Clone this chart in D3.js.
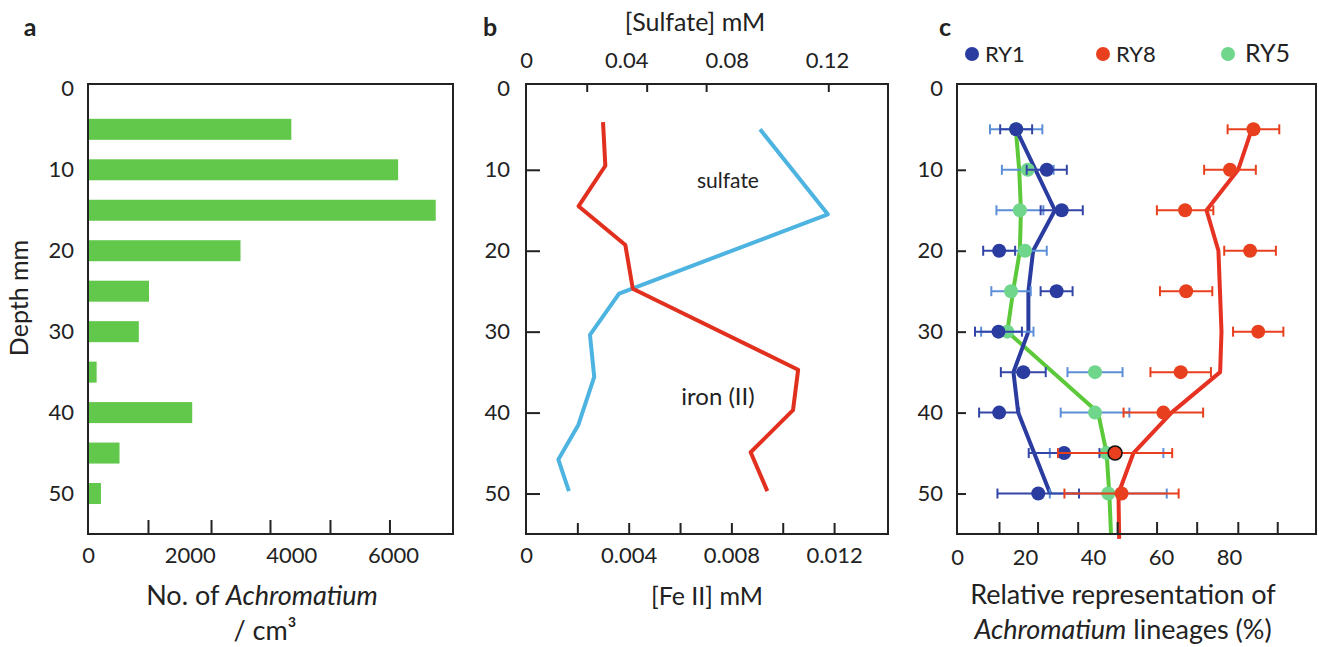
<!DOCTYPE html>
<html>
<head>
<meta charset="utf-8">
<script src="https://cdn.jsdelivr.net/npm/d3@7"></script>
<style>
  body { margin: 0; background: #fff; }
  text { font-family: Lato, "Open Sans", sans-serif; fill: #222; }
  .axis path { display: none; }
  .axis line { stroke: #222; stroke-width: 2; }
  .axis text { font-size: 22px; font-family: Lato, "Open Sans", sans-serif; fill: #222; }
</style>
</head>
<body>
<svg id="chart" width="1319" height="647"></svg>
<script>
// ---- data ----

// panel a: number of Achromatium per cm3 by depth (mm)
var depthsA = [5, 10, 15, 20, 25, 30, 35, 40, 45, 50];
var countsA = [4000, 6100, 6840, 3000, 1200, 1000, 170, 2050, 620, 255];
var ticksA = [0, 2000, 4000, 6000];
var tickMarksA = [1180, 2420, 3580, 4760, 5930];

// panel b: sulfate and iron (II) profiles
var sulfateDepths = [5, 15.5, 25.3, 30.4, 35.6, 41.5, 45.8, 49.7];
var sulfateValues = [0.0933, 0.1203, 0.0371, 0.0255, 0.0272, 0.0209, 0.0129, 0.0171];
var ironDepths = [4.1, 9.5, 14.5, 19.3, 24.7, 34.7, 39.7, 44.9, 49.7];
var ironValues = [0.0030, 0.00309, 0.00205, 0.00387, 0.00416, 0.0106, 0.0104, 0.00875, 0.0094];
var sulfateTicks = [0, 0.04, 0.08, 0.12];
var sulfateTickMarks = [0.0242, 0.0481, 0.0718, 0.1205];
var ironTicks = [0, 0.004, 0.008, 0.012];
var ironTickMarks = [0.002, 0.004, 0.006, 0.008, 0.010, 0.012];

// panel c: relative representation of lineages (%)
var depthsC = [5, 10, 15, 20, 25, 30, 35, 40, 45, 50];
var ry1 = [17.4, 26.4, 30.8, 12.4, 29.3, 12.2, 19.5, 12.4, 31.5, 23.9];
var ry1Err = [4.7, 5.9, 6.2, 4.7, 4.7, 6.9, 6.6, 5.9, 10.4, 12];
var ry5 = [17.4, 20.8, 18.5, 20, 15.9, 14.8, 40.6, 40.6, 44, 44.5];
var ry5Err = [7.7, 7.6, 6.9, 6.4, 5.8, 7.7, 8.1, 10.1, 16.7, 17.2];
var ry8 = [87.2, 80.3, 67.1, 86.2, 67.4, 88.6, 65.8, 60.7, 46.5, 48.4];
var ry8Err = [7.6, 7.6, 8.3, 7.6, 7.7, 7.4, 8.9, 11.7, 16.8, 16.8];

// trend lines in panel c
var ry1LineDepths = [5, 15, 20, 25, 30, 35, 40, 50];
var ry1Line = [17.4, 28.8, 22.4, 21, 21, 16.6, 18, 27.4];
var ry5LineDepths = [5, 10, 15, 20, 25, 30, 40, 45, 50, 55];
var ry5Line = [17.3, 18.3, 18.8, 18.5, 16.5, 14.8, 41.5, 44, 44.8, 45.3];
var ry8LineDepths = [5, 10, 15, 20, 30, 35, 40, 45, 50, 55.6];
var ry8Line = [86.7, 82.7, 73.4, 76.9, 77.8, 77.4, 63.1, 51.9, 47.5, 47.7];
var ticksC = [0, 20, 40, 60, 80];
var tickMarksC = [12.35, 23.7, 35.5, 47.1, 58.7, 70.5, 82.6, 94.2];

var depthTicks = [0, 10, 20, 30, 40, 50];
var depthTickMarks = [10, 20, 30, 40, 50];

var svg = d3.select("#chart");

// shared depth scale (all three panels line up)
var yTop = 84, yBottom = 534;
var y = d3.scaleLinear().domain([-0.6, 55]).range([yTop, yBottom]);

// helper to draw the frame box of a panel
function frame(x0, x1) {
    svg.append("rect")
        .attr("x", x0)
        .attr("y", yTop)
        .attr("width", x1 - x0)
        .attr("height", yBottom - yTop)
        .attr("fill", "none")
        .attr("stroke", "#222")
        .attr("stroke-width", 2);
}

// depth labels on the left of a panel
function depthAxis(x0, pad, markLen) {
    svg.append("g")
        .attr("class", "axis")
        .attr("transform", "translate(" + x0 + ",0)")
        .call(d3.axisLeft(y).tickValues(depthTicks).tickSize(0).tickPadding(pad).tickFormat(d3.format("d")));
    if (markLen) {
        svg.append("g")
            .attr("class", "axis")
            .attr("transform", "translate(" + x0 + ",0)")
            .call(d3.axisLeft(y).tickValues(depthTickMarks).tickSize(-markLen).tickFormat(""));
    }
}

// panel letters
[["a", 30], ["b", 490], ["c", 945]].forEach(function (p) {
    svg.append("text")
        .attr("x", p[1])
        .attr("y", 36)
        .attr("text-anchor", "middle")
        .style("font-size", "25px")
        .style("font-weight", "bold")
        .text(p[0]);
});

// ================= panel a =================
var xA = d3.scaleLinear().domain([0, 7180]).range([88, 453]);

svg.selectAll(".barA")
    .data(depthsA)
    .enter()
    .append("rect")
    .attr("class", "barA")
    .attr("x", xA(0))
    .attr("y", function (d) { return y(d) - 10.5; })
    .attr("width", function (d, i) { return xA(countsA[i]) - xA(0); })
    .attr("height", 21)
    .attr("fill", "#62c84b");

frame(88, 453);
depthAxis(88, 14, 0);

svg.append("g")
    .attr("class", "axis")
    .attr("transform", "translate(0," + yBottom + ")")
    .call(d3.axisBottom(xA).tickValues(ticksA).tickSize(0).tickPadding(13).tickFormat(d3.format("d")));
svg.append("g")
    .attr("class", "axis")
    .attr("transform", "translate(0," + yBottom + ")")
    .call(d3.axisBottom(xA).tickValues(tickMarksA).tickSize(-14).tickFormat(""));

// y title
svg.append("text")
    .attr("transform", "translate(28,298) rotate(-90)")
    .attr("text-anchor", "middle")
    .style("font-size", "25px")
    .text("Depth mm");

// x title
var tA = svg.append("text")
    .attr("x", 262)
    .attr("y", 605)
    .attr("text-anchor", "middle")
    .style("font-size", "27px");
tA.append("tspan").text("No. of ");
tA.append("tspan").style("font-style", "italic").text("Achromatium");
svg.append("text")
    .attr("x", 265)
    .attr("y", 640)
    .attr("text-anchor", "middle")
    .style("font-size", "27px")
    .text("/ cm\u00b3");

// ================= panel b =================
var xSulfate = d3.scaleLinear().domain([0, 0.1443]).range([526, 888]);
var xIron = d3.scaleLinear().domain([0, 0.0141]).range([526, 888]);

var sulfateLine = d3.line()
    .x(function (d) { return xSulfate(d[1]); })
    .y(function (d) { return y(d[0]); });
var ironLine = d3.line()
    .x(function (d) { return xIron(d[1]); })
    .y(function (d) { return y(d[0]); });

svg.append("path")
    .datum(d3.zip(sulfateDepths, sulfateValues))
    .attr("d", sulfateLine)
    .attr("fill", "none")
    .attr("stroke", "#4db3e0")
    .attr("stroke-width", 4)
    .attr("stroke-linejoin", "round");

svg.append("path")
    .datum(d3.zip(ironDepths, ironValues))
    .attr("d", ironLine)
    .attr("fill", "none")
    .attr("stroke", "#e2301f")
    .attr("stroke-width", 4)
    .attr("stroke-linejoin", "round");

frame(526, 888);
depthAxis(526, 16, 14);

// bottom axis: iron
svg.append("g")
    .attr("class", "axis")
    .attr("transform", "translate(0," + yBottom + ")")
    .call(d3.axisBottom(xIron).tickValues(ironTicks).tickSize(0).tickPadding(13).tickFormat(function (d) { return d === 0 ? "0" : String(d); }));
svg.append("g")
    .attr("class", "axis")
    .attr("transform", "translate(0," + yBottom + ")")
    .call(d3.axisBottom(xIron).tickValues(ironTickMarks).tickSize(-11).tickFormat(""));

// top axis: sulfate
svg.append("g")
    .attr("class", "axis")
    .attr("transform", "translate(0," + yTop + ")")
    .call(d3.axisTop(xSulfate).tickValues(sulfateTicks).tickSize(0).tickPadding(16).tickFormat(function (d) { return d === 0 ? "0" : String(d); }));
svg.append("g")
    .attr("class", "axis")
    .attr("transform", "translate(0," + yTop + ")")
    .call(d3.axisTop(xSulfate).tickValues(sulfateTickMarks).tickSize(-8).tickFormat(""));

svg.append("text")
    .attr("x", 695)
    .attr("y", 31)
    .attr("text-anchor", "middle")
    .style("font-size", "25px")
    .text("[Sulfate] mM");

svg.append("text")
    .attr("x", 707)
    .attr("y", 605)
    .attr("text-anchor", "middle")
    .style("font-size", "25px")
    .text("[Fe II] mM");

svg.append("text")
    .attr("x", 728)
    .attr("y", 188)
    .attr("text-anchor", "middle")
    .style("font-size", "21px")
    .text("sulfate");

svg.append("text")
    .attr("x", 718)
    .attr("y", 405)
    .attr("text-anchor", "middle")
    .style("font-size", "24px")
    .text("iron (II)");

// ================= panel c =================
var xC = d3.scaleLinear().domain([0, 105.6]).range([957, 1316]);

var trend = d3.line()
    .x(function (d) { return xC(d[1]); })
    .y(function (d) { return y(d[0]); });

var series = [
    { vals: ry5, err: ry5Err, dot: "#6fd68c", bar: "#5d8fd8", line: "#5cc93a", lineD: ry5LineDepths, lineV: ry5Line },
    { vals: ry1, err: ry1Err, dot: "#2b3ca0", bar: "#3346a8", line: "#2b3ca0", lineD: ry1LineDepths, lineV: ry1Line },
    { vals: ry8, err: ry8Err, dot: "#e8401e", bar: "#e8401e", line: "#e63222", lineD: ry8LineDepths, lineV: ry8Line }
];

// trend lines
series.forEach(function (s) {
    svg.append("path")
        .datum(d3.zip(s.lineD, s.lineV))
        .attr("d", trend)
        .attr("fill", "none")
        .attr("stroke", s.line)
        .attr("stroke-width", 4)
        .attr("stroke-linejoin", "round");
});

// error bars and dots
series.forEach(function (s) {
    var g = svg.append("g");
    var pts = d3.zip(depthsC, s.vals, s.err);

    g.selectAll(".eb")
        .data(pts)
        .enter()
        .append("line")
        .attr("x1", function (d) { return xC(d[1] - d[2]); })
        .attr("x2", function (d) { return xC(d[1] + d[2]); })
        .attr("y1", function (d) { return y(d[0]); })
        .attr("y2", function (d) { return y(d[0]); })
        .attr("stroke", s.bar)
        .attr("stroke-width", 2);

    [-1, 1].forEach(function (side) {
        g.selectAll(".cap" + side)
            .data(pts)
            .enter()
            .append("line")
            .attr("x1", function (d) { return xC(d[1] + side * d[2]); })
            .attr("x2", function (d) { return xC(d[1] + side * d[2]); })
            .attr("y1", function (d) { return y(d[0]) - 5; })
            .attr("y2", function (d) { return y(d[0]) + 5; })
            .attr("stroke", s.bar)
            .attr("stroke-width", 2);
    });

    g.selectAll("circle")
        .data(pts)
        .enter()
        .append("circle")
        .attr("cx", function (d) { return xC(d[1]); })
        .attr("cy", function (d) { return y(d[0]); })
        .attr("r", 7)
        .attr("fill", s.dot)
        .attr("stroke", function (d) { return s.dot === "#e8401e" && d[0] === 45 ? "#111" : "none"; })
        .attr("stroke-width", 1.5);
});

frame(957, 1316);
depthAxis(957, 14, 9);

svg.append("g")
    .attr("class", "axis")
    .attr("transform", "translate(0," + yBottom + ")")
    .call(d3.axisBottom(xC).tickValues(ticksC).tickSize(0).tickPadding(15).tickFormat(d3.format("d")));
svg.append("g")
    .attr("class", "axis")
    .attr("transform", "translate(0," + yBottom + ")")
    .call(d3.axisBottom(xC).tickValues(tickMarksC).tickSize(-12).tickFormat(""));

svg.append("text")
    .attr("x", 1123)
    .attr("y", 604)
    .attr("text-anchor", "middle")
    .style("font-size", "27px")
    .text("Relative representation of");
var tC = svg.append("text")
    .attr("x", 1123)
    .attr("y", 639)
    .attr("text-anchor", "middle")
    .style("font-size", "27px");
tC.append("tspan").style("font-style", "italic").text("Achromatium");
tC.append("tspan").text(" lineages (%)");

// legend
var legendNames = ["RY1", "RY8", "RY5"];
var legendColors = ["#2b3ca0", "#e8401e", "#6fd68c"];
var legendX = [972, 1103, 1228];
var legendSize = [22, 22, 25];

legendNames.forEach(function (name, i) {
    svg.append("circle")
        .attr("cx", legendX[i])
        .attr("cy", 54)
        .attr("r", 7)
        .attr("fill", legendColors[i]);
    svg.append("text")
        .attr("x", legendX[i] + 13 + (i === 2 ? 4 : 0))
        .attr("y", 62)
        .style("font-size", legendSize[i] + "px")
        .text(name);
});
</script>
</body>
</html>
